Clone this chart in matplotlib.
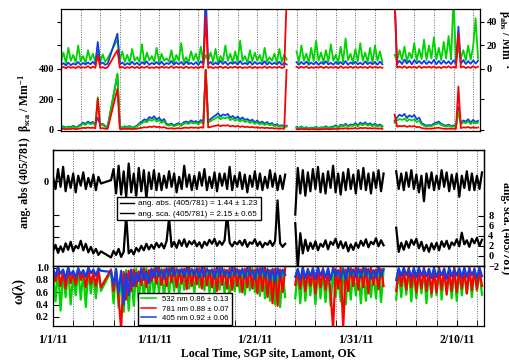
import numpy as np
import matplotlib

matplotlib.use("Agg")
import matplotlib.pyplot as plt
from matplotlib.lines import Line2D

nan = np.nan
plt.rcParams["font.family"] = "Liberation Serif"
plt.rcParams["font.weight"] = "bold"
plt.rcParams["mathtext.fontset"] = "custom"
plt.rcParams["mathtext.rm"] = "Liberation Serif:bold"
plt.rcParams["mathtext.it"] = "Liberation Serif:italic:bold"
plt.rcParams["mathtext.bf"] = "Liberation Serif:bold"

# sample times, days since 1/1/11 (no samples between 4.75 and 5.75)
t = np.r_[np.arange(0, 5, 0.25), np.arange(5.75, 42.6, 0.25)]
tick_days = [0, 10, 20, 30, 40]
tick_labels = ["1/1/11", "1/11/11", "1/21/11", "1/31/11", "2/10/11"]

# --- absorption coefficients (Mm-1), 532 / 405 / 781 nm ---
abs_g = [6.0, 14.0, 5.0, 18.0, 7.0, 12.0, 5.5, 20.0, 6.5, 11.0, 5.0, 16.0, 7.5, 13.0, 6.0, 19.0, 5.5, 12.5, 6.0, 9.0,
         25.0, 7.0, 15.0, 6.0, 12.0, 5.5, 17.0, 7.0,
         10.0, 6.0, 21.0, 5.0, 14.0, 7.5, 11.0, 6.0,
         18.0, 5.5, 13.0, 7.0, 9.0, 6.5, 16.0, 5.0,
         12.0, 7.0, 22.0, 6.0, 10.0, 5.5, 15.0, 7.5,
         13.0, 6.0, 19.0, 5.5, 12.0, 7.0, 14.0, 6.0,
         17.0, 5.0, 11.0, 6.5, 20.0, 7.0, 13.0, 5.5,
         15.0, 6.0, 24.0, 7.0, 11.0, 5.0, 16.0, 6.5,
         14.0, 7.0, 12.0, 5.5, 18.0, 6.0, 10.0, 7.0,
         13.0, 5.5, 17.0, 6.0, 12.0, 8.0, nan, nan,
         nan, 15.0, 6.0, 20.0, 7.0, 13.0, 5.5, 18.0,
         6.5, 24.0, 7.0, 14.0, 5.5, 16.0, 6.0, 21.0,
         7.0, 12.0, 5.0, 19.0, 6.0, 26.0, 7.5, 13.0,
         5.5, 17.0, 6.5, 22.0, 7.0, 14.0, 6.0, 18.0,
         5.0, 20.0, 7.0, 15.0, 6.0, nan, nan, nan,
         nan, 12.0, 7.0, 16.0, 8.0, 19.0, 6.5, 14.0,
         9.0, 22.0, 7.0, 17.0, 8.5, 25.0, 7.5, 20.0,
         9.0, 27.0, 8.0, 18.0, 7.5, 23.0, 9.0, 28.0,
         8.0, 60.0, 7.0, 18.0, 9.0, 16.0, 7.5, 20.0,
         8.0, 19.0, 43.0, 9.0]
abs_b = [3.5, 5.0, 3.0, 5.5, 3.2, 4.8, 3.6, 6.0, 3.4, 5.2, 3.8, 5.6, 4.0, 6.2, 3.5, 23.0, 4.2, 5.5, 3.6, 4.5,
         30.0, 4.0, 5.5, 3.3, 5.0, 3.6, 6.2, 3.8,
         5.4, 3.2, 5.8, 4.1, 6.5, 3.5, 5.2, 4.0,
         5.9, 3.7, 6.3, 3.4, 5.1, 4.2, 6.8, 3.6,
         5.7, 3.9, 6.0, 3.5, 6.4, 4.0, 5.3, 3.8,
         5.8, 3.4, 6.6, 4.1, 65.0, 4.0, 6.1, 3.6,
         5.5, 3.8, 7.0, 4.2, 6.2, 3.5, 5.6, 4.4,
         5.9, 3.7, 6.8, 4.0, 5.2, 3.9, 6.4, 3.6,
         6.0, 4.1, 5.5, 3.8, 6.6, 3.6, 5.9, 4.0,
         5.4, 3.8, 6.2, 3.5, 5.0, 3.9, nan, nan,
         nan, 5.8, 3.6, 6.0, 4.0, 6.4, 3.7, 5.5,
         3.9, 6.1, 3.5, 5.8, 4.1, 6.6, 3.8, 5.3,
         3.6, 6.0, 4.0, 5.9, 3.8, 6.8, 3.6, 5.6,
         4.2, 6.2, 3.9, 5.4, 3.7, 6.5, 4.1, 5.7,
         3.9, 6.0, 3.6, 6.3, 4.0, nan, nan, nan,
         nan, 60.0, 4.5, 7.0, 4.2, 8.0, 4.6, 7.2,
         4.0, 7.5, 4.8, 6.8, 4.4, 7.0, 4.2, 6.5,
         4.6, 7.8, 4.0, 6.9, 4.3, 7.1, 4.5, 6.6,
         4.1, 7.4, 4.4, 36.0, 4.5, 7.6, 4.2, 6.8,
         4.4, 7.3, 4.6, 7.0]
abs_r = [0.8, 1.8, 0.6, 2.0, 1.0, 1.6, 0.7, 2.2, 0.9, 1.5, 1.1, 2.4, 0.8, 1.9, 1.0, 12.0, 0.9, 1.7, 0.6, 1.4,
         16.0, 1.0, 1.8, 0.7, 1.6, 0.9, 2.1, 0.8,
         1.9, 0.6, 1.7, 1.0, 2.2, 0.8, 1.5, 0.9,
         1.8, 0.7, 2.0, 1.1, 1.6, 0.9, 2.3, 0.8,
         1.9, 1.0, 1.7, 0.7, 2.1, 0.8, 1.6, 0.9,
         1.7, 0.6, 2.0, 1.0, 45.0, 0.9, 1.8, 0.7,
         1.6, 1.0, 2.2, 0.8, 1.9, 0.7, 1.7, 1.1,
         2.0, 0.9, 1.8, 0.8, 1.5, 1.0, 2.1, 0.7,
         1.8, 0.8, 1.6, 0.9, 2.2, 0.7, 1.9, 1.0,
         1.7, 0.9, 2.0, 0.8, 1.6, 60.0, nan, nan,
         nan, 1.9, 0.8, 2.0, 1.0, 2.2, 0.7, 1.6,
         0.9, 1.8, 1.1, 2.1, 0.8, 2.0, 0.9, 1.7,
         1.0, 1.9, 0.7, 2.3, 0.9, 1.6, 1.0, 2.0,
         0.8, 2.1, 0.9, 1.8, 1.1, 1.7, 0.8, 2.2,
         0.9, 2.0, 1.0, 1.6, 1.0, nan, nan, nan,
         nan, 60.0, 1.2, 2.0, 1.0, 2.3, 0.9, 1.9,
         1.1, 2.0, 0.8, 2.4, 0.9, 1.8, 1.2, 2.1,
         1.0, 2.2, 0.9, 1.7, 0.8, 2.0, 1.1, 2.3,
         1.0, 1.9, 0.9, 30.0, 1.2, 2.1, 0.8, 1.8,
         0.9, 2.4, 1.0, 2.0]

# --- scattering coefficients (Mm-1) ---
sca_b = [18, 24, 15, 22, 20, 27, 17, 25, 35, 48, 40, 55, 45, 52, 38, 80, 34, 40, 25, 22,
         360, 22, 16, 24, 19, 26, 15, 21,
         28, 45, 55, 70, 62, 85, 75, 90,
         68, 80, 58, 72, 40, 35, 42, 30,
         38, 45, 33, 50, 55, 48, 62, 52,
         58, 45, 65, 50, 390, 60, 72, 85,
         95, 110, 88, 102, 96, 105, 80, 92,
         75, 88, 70, 82, 65, 72, 58, 68,
         50, 62, 45, 55, 40, 52, 38, 45,
         30, 38, 25, 32, 22, 28, nan, nan,
         nan, 20, 14, 22, 12, 18, 10, 15,
         14, 20, 11, 17, 16, 24, 13, 20,
         22, 30, 18, 35, 28, 40, 25, 36,
         32, 45, 30, 48, 38, 50, 35, 44,
         30, 42, 28, 36, 25, nan, nan, nan,
         nan, 60, 82, 100, 90, 105, 78, 96,
         85, 98, 70, 80, 45, 35, 28, 32,
         30, 42, 48, 55, 40, 32, 28, 35,
         25, 30, 22, 150, 45, 62, 55, 70,
         48, 66, 52, 60]
sca_g = [14, 20, 12, 19, 16, 22, 14, 21, 28, 40, 33, 46, 37, 44, 31, 215, 28, 34, 20, 18,
         370, 18, 13, 20, 15, 22, 12, 17,
         22, 36, 44, 56, 50, 68, 60, 72,
         55, 64, 46, 58, 32, 28, 34, 24,
         30, 37, 27, 41, 44, 39, 50, 42,
         47, 36, 52, 40, 395, 48, 58, 68,
         76, 88, 70, 82, 77, 84, 64, 74,
         60, 70, 56, 66, 52, 58, 46, 54,
         40, 50, 36, 44, 32, 42, 30, 36,
         24, 30, 20, 26, 18, 22, nan, nan,
         nan, 16, 11, 18, 10, 15, 8, 12,
         11, 16, 9, 14, 13, 19, 10, 16,
         18, 24, 14, 28, 22, 32, 20, 29,
         26, 36, 24, 38, 30, 40, 28, 35,
         24, 34, 22, 29, 20, nan, nan, nan,
         nan, 48, 62, 72, 66, 74, 58, 70,
         62, 70, 52, 60, 36, 28, 22, 26,
         24, 34, 38, 44, 32, 26, 22, 28,
         20, 24, 18, 120, 36, 50, 44, 56,
         38, 52, 42, 48]
sca_r = [5, 8, 4, 7, 6, 9, 5, 8, 10, 14, 12, 16, 13, 15, 11, 205, 10, 12, 8, 7,
         270, 7, 5, 8, 6, 8, 5, 7,
         8, 12, 14, 18, 16, 22, 19, 24,
         18, 21, 15, 19, 11, 9, 12, 8,
         10, 12, 9, 14, 15, 13, 17, 14,
         16, 12, 18, 14, 400, 16, 20, 24,
         27, 32, 25, 30, 28, 31, 23, 27,
         22, 26, 20, 24, 19, 21, 17, 20,
         15, 18, 13, 16, 12, 15, 11, 13,
         9, 11, 7, 10, 7, 420, nan, nan,
         nan, 6, 4, 7, 4, 6, 3, 5,
         4, 6, 3, 5, 5, 7, 4, 6,
         6, 8, 5, 10, 8, 12, 7, 10,
         9, 13, 8, 14, 11, 14, 10, 12,
         9, 12, 8, 10, 7, nan, nan, nan,
         nan, 100, 22, 26, 24, 28, 20, 25,
         22, 26, 18, 21, 12, 10, 8, 9,
         8, 11, 13, 15, 10, 8, 7, 9,
         7, 9, 6, 285, 12, 17, 15, 19,
         13, 18, 14, 16]

# --- Angstrom exponents (405/781) ---
ang_abs = [0.4, -0.7, 1.1, -0.5, 1.3, -0.9, 0.5, -0.6, 0.7, -1.0, 0.5, -0.4, 0.8, -0.7, 0.3, -0.5, 0.6, -0.8, 0.4, -0.2,
           0.1, 1.1, -1.1, 1.4, -1.2, 0.9, -1.4, 1.6,
           -1.0, 0.7, -1.3, 1.2, -0.9, 1.0, -1.6, 0.8,
           -0.7, 1.0, -0.8, 0.7, -0.8, 0.5, -0.6, 0.9,
           -0.5, 0.7, -1.0, 0.4, -0.7, 1.4, -0.5, 0.6,
           -0.8, 0.5, -0.7, 0.8, -0.4, 1.1, -0.8, 0.4,
           -0.6, 0.8, -0.9, 0.7, -0.4, 0.7, -0.7, 1.3,
           -0.8, 0.5, -0.5, 0.8, -0.7, 0.6, -1.0, 0.5,
           -0.5, 0.9, -0.7, 0.7, -0.8, 0.4, -0.6, 1.0,
           -0.5, 0.7, -0.8, 0.5, -0.7, 0.6, nan, nan,
           nan, -3.0, 1.2, -1.1, 1.0, -1.3, 0.8, -0.9,
           1.1, -0.7, 1.3, -1.0, 0.7, -1.1, 0.9, -0.6,
           1.4, -1.0, 0.7, -1.2, 0.8, -0.8, 1.1, -0.7,
           0.6, -1.1, 1.0, -0.7, 1.2, -0.8, 0.7, -1.1,
           0.8, -0.6, 1.0, -0.9, 0.7, nan, nan, nan,
           nan, 0.9, -0.7, 0.7, -0.8, 0.8, -0.5, 1.0,
           -0.7, 0.6, -1.0, 0.5, -1.8, 0.7, -0.6, 0.8,
           -0.8, 0.5, -0.7, 1.0, -0.5, 0.8, -0.9, 0.6,
           -0.7, 0.7, -1.4, 0.5, -0.6, 0.9, -0.8, 0.7,
           -0.8, 0.5, -0.7, 0.8]
ang_sca = [1.0, 2.2, 0.6, 1.9, 0.8, 2.5, 1.2, 2.8, 0.9, 2.0, 1.5, 3.0, 1.1, 2.4, 0.7, 1.8, 0.5, 1.4, 0.2, 0.9,
           -0.3, 1.0, 0.2, 1.4, -0.2, 0.8, 8.0, 0.5,
           1.2, 0.3, 1.6, 0.9, 2.0, 1.1, 2.4, 1.3,
           2.2, 1.4, 2.6, 1.7, 2.5, 1.5, 2.9, 7.5,
           1.8, 2.8, 1.6, 3.1, 2.0, 3.3, 1.8, 2.9,
           2.3, 3.0, 1.9, 2.7, 1.6, 2.8, 2.1, 3.2,
           2.4, 3.4, 2.0, 2.9, 2.2, 3.1, 8.5, 2.6,
           1.9, 2.8, 2.3, 3.0, 2.1, 3.2, 1.8, 2.7,
           2.4, 3.3, 2.0, 2.8, 1.7, 2.6, 2.2, 3.0,
           2.0, 2.9, 11.0, 2.5, 1.8, 2.4, nan, nan,
           nan, 6.5, -2.5, 4.5, 0.5, 3.2, 1.0, 2.6,
           1.4, 2.9, 1.1, 2.4, 1.8, 3.1, 1.3, 2.8,
           2.2, 3.4, 1.6, 2.9, 1.5, 2.7, 0.9, 2.3,
           1.2, 2.6, 1.6, 3.0, 2.0, 3.3, 1.7, 2.8,
           2.3, 3.5, 1.9, 3.1, 2.1, nan, nan, nan,
           nan, 5.6, 0.8, 2.6, 1.2, 2.9, 1.6, 3.2,
           2.2, 3.4, 1.5, 2.8, 1.0, 2.2, 0.8, 2.5,
           1.3, 2.6, 1.1, 2.9, 1.8, 3.0, 1.4, 2.7,
           2.1, 3.3, 1.9, 4.6, 2.3, 3.1, 1.8, 3.4,
           2.5, 3.6, 2.0, 3.2]

# --- single scattering albedo ---
ssa_g = [0.95, 0.45, 0.98, 0.30, 0.92, 0.52, 0.99, 0.40, 0.90, 0.55, 0.97, 0.48, 0.93, 0.36, 0.98, 0.58, 0.91, 0.50, 0.96, 0.62,
         0.94, 0.42, 0.97, 0.35, 0.90, 0.28, 0.96, 0.30,
         0.92, 0.38, 0.98, 0.45, 0.95, 0.50, 0.99, 0.42,
         0.97, 0.55, 0.93, 0.60, 0.98, 0.52, 0.95, 0.58,
         0.96, 0.62, 0.99, 0.56, 0.94, 0.64, 0.97, 0.66,
         0.98, 0.60, 0.95, 0.68, 0.96, 0.63, 0.99, 0.60,
         0.97, 0.55, 0.94, 0.64, 0.99, 0.58, 0.96, 0.50,
         0.95, 0.62, 0.98, 0.60, 0.97, 0.56, 0.94, 0.63,
         0.99, 0.60, 0.95, 0.54, 0.96, 0.50, 0.98, 0.46,
         0.94, 0.40, 0.97, 0.36, 0.95, 0.52, nan, nan,
         nan, 0.50, 0.96, 0.42, 0.98, 0.46, 0.94, 0.55,
         0.97, 0.40, 0.99, 0.50, 0.95, 0.44, 0.98, 0.38,
         0.96, 0.52, 0.93, 0.45, 0.99, 0.40, 0.95, 0.48,
         0.97, 0.55, 0.94, 0.42, 0.98, 0.46, 0.96, 0.52,
         0.95, 0.50, 0.99, 0.44, 0.96, nan, nan, nan,
         nan, 0.48, 0.97, 0.52, 0.95, 0.56, 0.99, 0.45,
         0.97, 0.50, 0.94, 0.58, 0.98, 0.42, 0.96, 0.52,
         0.95, 0.55, 0.99, 0.48, 0.97, 0.60, 0.94, 0.50,
         0.99, 0.46, 0.96, 0.55, 0.95, 0.58, 0.98, 0.52,
         0.97, 0.62, 0.94, 0.56]
ssa_r = [0.97, 0.78, 1.0, 0.70, 0.95, 0.66, 0.99, 0.75, 0.93, 0.72, 0.98, 0.80, 0.94, 0.68, 0.97, 0.74, 0.92, 0.70, 0.96, 0.68,
         0.97, 0.62, 0.94, 0.50, 0.0, 0.93, 0.48, 0.95,
         0.62, 0.97, 0.70, 0.94, 0.72, 0.99, 0.68, 0.96,
         0.78, 0.98, 0.74, 1.0, 0.72, 0.97, 0.70, 0.99,
         0.76, 1.0, 0.68, 0.97, 0.74, 0.98, 0.65, 1.0,
         0.70, 0.97, 0.73, 0.99, 0.66, 1.0, 0.71, 0.96,
         0.68, 0.98, 0.62, 1.0, 0.72, 0.97, 0.66, 0.99,
         0.64, 1.0, 0.70, 0.96, 0.60, 0.98, 0.68, 1.0,
         0.66, 0.97, 0.58, 0.99, 0.62, 1.0, 0.52, 0.96,
         0.42, 0.98, 0.38, 0.97, 0.60, 0.99, nan, nan,
         nan, 0.72, 0.97, 0.66, 1.0, 0.62, 0.98, 0.70,
         0.97, 0.58, 1.0, 0.68, 0.99, 0.64, 0.96, 0.60,
         0.0, 0.98, 0.66, 1.0, 0.02, 0.97, 0.62, 0.99,
         0.70, 1.0, 0.64, 0.97, 0.68, 0.99, 0.58, 1.0,
         0.72, 0.97, 0.65, 0.98, 0.70, nan, nan, nan,
         nan, 0.62, 0.98, 0.70, 0.97, 0.64, 1.0, 0.68,
         0.99, 0.60, 0.97, 0.66, 1.0, 0.62, 0.98, 0.58,
         0.97, 0.60, 1.0, 0.64, 0.99, 0.56, 0.96, 0.62,
         1.0, 0.60, 0.98, 0.66, 0.97, 0.58, 1.0, 0.63,
         0.99, 0.65, 0.97, 0.70]
ssa_b = [0.98, 0.86, 1.0, 0.90, 0.97, 0.82, 1.0, 0.88, 0.95, 0.84, 0.99, 0.89, 0.96, 0.85, 1.0, 0.91, 0.97, 0.87, 0.99, 0.95,
         0.93, 0.72, 0.98, 0.60, 0.95, 0.40, 0.90, 0.55,
         0.97, 0.70, 0.92, 0.78, 0.99, 0.80, 0.94, 0.75,
         0.98, 0.84, 1.0, 0.86, 0.96, 0.82, 0.99, 0.88,
         1.0, 0.87, 0.97, 0.90, 0.98, 0.85, 1.0, 0.89,
         0.97, 0.88, 0.99, 0.84, 1.0, 0.86, 0.98, 0.90,
         0.97, 0.83, 1.0, 0.88, 0.99, 0.87, 0.96, 0.85,
         1.0, 0.89, 0.97, 0.86, 0.98, 0.84, 1.0, 0.88,
         0.96, 0.82, 0.99, 0.87, 1.0, 0.85, 0.97, 0.80,
         0.98, 0.78, 0.99, 0.84, 0.97, 0.88, nan, nan,
         nan, 0.85, 0.98, 0.80, 1.0, 0.83, 0.97, 0.86,
         0.99, 0.82, 1.0, 0.87, 0.97, 0.84, 0.99, 0.80,
         1.0, 0.86, 0.96, 0.83, 0.98, 0.81, 1.0, 0.88,
         0.97, 0.85, 0.99, 0.84, 1.0, 0.87, 0.98, 0.82,
         0.96, 0.84, 1.0, 0.86, 0.98, nan, nan, nan,
         nan, 0.80, 0.99, 0.86, 1.0, 0.88, 0.97, 0.85,
         0.99, 0.84, 1.0, 0.87, 0.97, 0.86, 0.98, 0.83,
         1.0, 0.85, 0.96, 0.88, 0.98, 0.82, 1.0, 0.86,
         0.97, 0.87, 0.99, 0.84, 1.0, 0.85, 0.98, 0.88,
         0.97, 0.83, 1.0, 0.86]

ang_legend = ["ang. abs. (405/781) = 1.44 \u00b1 1.23", "ang. sca. (405/781) = 2.15 \u00b1 0.65"]
ssa_legend = ["532 nm 0.86 \u00b1 0.13", "781 nm 0.88 \u00b1 0.07", "405 nm 0.92 \u00b1 0.06"]

GREEN, RED, BLUE = "#00d400", "#ff0000", "#1040e6"
W, H = 510, 363
XLIM = (0, 42.7)
TICKFS = 7.5


def box(x0, y0, x1, y1):
    return [x0 / W, 1 - y1 / H, (x1 - x0) / W, (y1 - y0) / H]


fig = plt.figure(figsize=(W / 100, H / 100), dpi=100)
ax_abs = fig.add_axes(box(61, 9, 480, 69))
ax_sca = fig.add_axes(box(61, 69, 480, 131))
ax_ang = fig.add_axes(box(53, 150, 484, 266))
ax_w = fig.add_axes(box(53, 266, 484, 326))

for ax in (ax_abs, ax_sca, ax_ang, ax_w):
    ax.set_xlim(*XLIM)
    for d in range(2, 43, 2):
        ax.axvline(d, color="0.4", ls=(0, (1, 1.5)), lw=0.7, zorder=0)
    for s in ax.spines.values():
        s.set_linewidth(0.9)

# top: absorption (right axis) stacked over scattering (left axis)
ax_abs.plot(t, abs_g, color=GREEN, lw=1.3)
ax_abs.plot(t, abs_b, color=BLUE, lw=1.3)
ax_abs.plot(t, abs_r, color=RED, lw=1.3)
ax_abs.set_ylim(0, 51)
ax_abs.set_yticks([0, 20, 40])
ax_abs.tick_params(axis="y", direction="out", left=True, right=True, labelleft=False,
                   labelright=True, length=3, labelsize=TICKFS, pad=2)
ax_abs.set_xticks([])
ax_abs.spines["bottom"].set_visible(False)

ax_sca.plot(t, sca_b, color=BLUE, lw=1.3)
ax_sca.plot(t, sca_g, color=GREEN, lw=1.3)
ax_sca.plot(t, sca_r, color=RED, lw=1.3)
ax_sca.set_ylim(-7, 400)
ax_sca.set_yticks([0, 200, 400])
ax_sca.tick_params(axis="y", direction="out", left=True, right=True, labelleft=True,
                   labelright=False, length=3, labelsize=TICKFS, pad=2)
ax_sca.set_xticks([])
ax_sca.spines["top"].set_visible(False)

# middle: Angstrom exponents
ax_ang.plot(t, ang_abs, color="k", lw=1.6)
ax_ang.set_ylim(-7.64, 2.82)
ax_ang.set_yticks([-6, -5, -4, -3, 0], ["", "", "", "", "0"])
ax_ang.tick_params(axis="y", direction="in", length=4, labelsize=TICKFS, pad=3)
ax_ang.set_xticks([])

ax_as = ax_ang.twinx()
ax_as.plot(t, ang_sca, color="k", lw=1.6)
ax_as.set_ylim(-2, 21)
ax_as.set_yticks([-2, 0, 2, 4, 6, 8])
ax_as.tick_params(axis="y", direction="in", length=4, labelsize=TICKFS, pad=3)
ax_as.set_xlim(*XLIM)
ax_as.set_xticks([])
for s in ax_as.spines.values():
    s.set_linewidth(0.9)

h_ang = [Line2D([], [], color="k", lw=1.0), Line2D([], [], color="k", lw=1.0)]
ax_as.legend(h_ang, ang_legend, loc="upper left", bbox_to_anchor=(117 / W, 1 - 197 / H),
             bbox_transform=fig.transFigure, borderaxespad=0,
             prop={"family": "Liberation Sans", "size": 5.8, "weight": "normal"},
             fancybox=False, edgecolor="k", framealpha=1, handlelength=1.7,
             handletextpad=0.6, labelspacing=0.3, borderpad=0.35)

# bottom: single scattering albedo
ax_w.plot(t, ssa_g, color=GREEN, lw=1.6)
ax_w.plot(t, ssa_r, color=RED, lw=1.6)
ax_w.plot(t, ssa_b, color=BLUE, lw=1.6)
ax_w.set_ylim(0.05, 1.027)
ax_w.set_yticks([0.2, 0.4, 0.6, 0.8, 1.0], ["0.2", "0.4", "0.6", "0.8", "1.0"])
ax_w.set_xticks(tick_days, tick_labels)
ax_w.set_xticks(range(2, 43, 2), minor=True)
ax_w.tick_params(axis="y", direction="in", length=4, labelsize=TICKFS, pad=3)
ax_w.tick_params(axis="x", which="both", direction="in", length=4, labelsize=8.5, pad=6)

h_w = [Line2D([], [], color=c, lw=1.1) for c in (GREEN, RED, BLUE)]
ax_w.legend(h_w, ssa_legend, loc="upper left", bbox_to_anchor=(138 / W, 1 - 293 / H),
            bbox_transform=fig.transFigure, borderaxespad=0,
            prop={"family": "Liberation Sans", "size": 5.6, "weight": "normal"},
            fancybox=False, edgecolor="k", framealpha=1, handlelength=2.0,
            handletextpad=0.8, labelspacing=0.25, borderpad=0.35)

# axis titles
fig.text(25 / W, 1 - 103 / H, "\u03b2$_{\\mathrm{sca}}$ / Mm$^{-1}$", rotation=90,
         ha="center", va="center", fontsize=8.5)
fig.text(25 / W, 1 - 183 / H, "ang. abs (405/781)", rotation=90, ha="center", va="center", fontsize=8.5)
fig.text(19 / W, 1 - 291 / H, "\u03c9(\u03bb)", rotation=90, ha="center", va="center", fontsize=10)
fig.text(505 / W, 1 - 40 / H, "\u03b2$_{\\mathrm{abs}}$ / Mm$^{-1}$", rotation=270,
         ha="center", va="center", fontsize=8.5)
fig.text(506 / W, 1 - 228 / H, "ang. sca. (405/781)", rotation=270, ha="center", va="center", fontsize=8.5)
fig.text(268 / W, 1 - 353 / H, "Local Time, SGP site, Lamont, OK", ha="center", va="center", fontsize=8.5)

fig.savefig("out.png", dpi=100)
